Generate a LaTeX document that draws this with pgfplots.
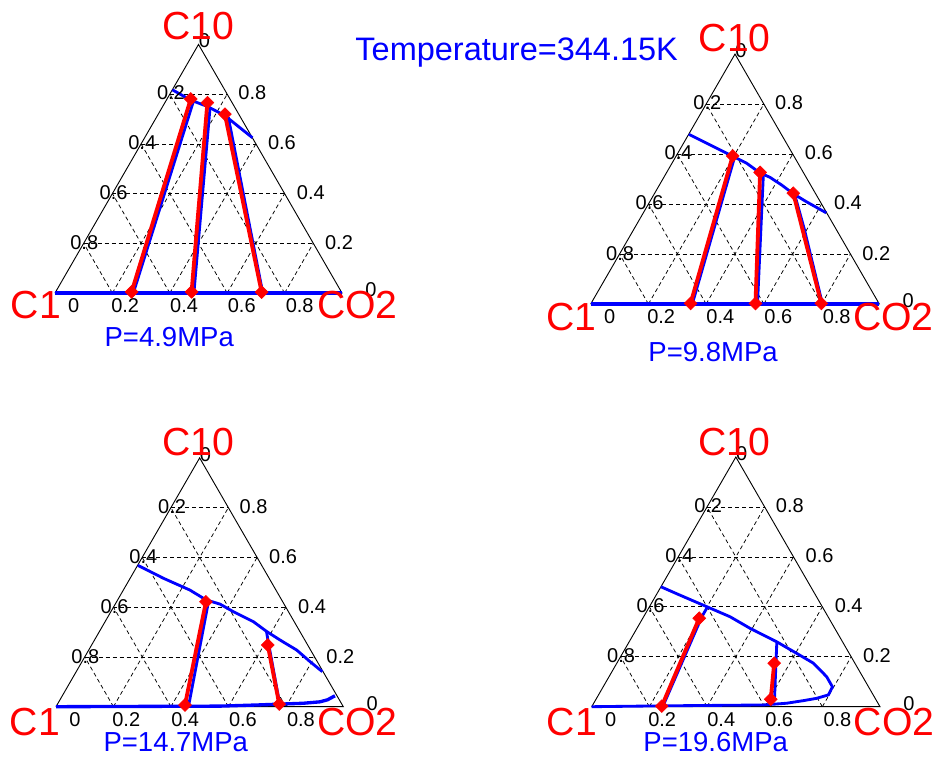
\documentclass[border=0pt]{standalone}
\usepackage{fontspec}
\setmainfont{Liberation Sans}
\usepackage{pgfplots}
\pgfplotsset{compat=1.18}

\tikzset{
  tick/.style={font=\fontsize{12}{14}\selectfont, inner sep=0pt},
  big/.style={font=\fontsize{23.5}{26}\selectfont, text=red, inner sep=0pt},
  plab/.style={font=\fontsize{16.5}{19}\selectfont, text=blue, inner sep=0pt},
}
\pgfplotsset{
  tern/.style={hide axis, clip=false, enlargelimits=false,
    xmin=0, xmax=1, ymin=0, ymax=0.8660, anchor=south west},
  gridl/.style={black, line width=0.45pt, dash pattern=on 2.4pt off 1.8pt, forget plot},
  edge/.style={black, line width=0.55pt, forget plot},
  bl/.style={blue, line width=1.7pt, forget plot},
  blb/.style={blue, line width=2.5pt, forget plot},
  rd/.style={red, line width=2.3pt, mark=square*, mark size=2.7pt,
    mark options={rotate=45, solid, line width=0.4pt, fill=red, draw=red}, forget plot},
}

\newcommand{\tgrid}{%
  \addplot[gridl] coordinates {(0.1,0.1732) (0.9,0.1732)};
  \addplot[gridl] coordinates {(0.2,0.3464) (0.8,0.3464)};
  \addplot[gridl] coordinates {(0.3,0.5196) (0.7,0.5196)};
  \addplot[gridl] coordinates {(0.4,0.6928) (0.6,0.6928)};
  \addplot[gridl] coordinates {(0.2,0) (0.6,0.6928)};
  \addplot[gridl] coordinates {(0.4,0) (0.7,0.5196)};
  \addplot[gridl] coordinates {(0.6,0) (0.8,0.3464)};
  \addplot[gridl] coordinates {(0.8,0) (0.9,0.1732)};
  \addplot[gridl] coordinates {(0.8,0) (0.4,0.6928)};
  \addplot[gridl] coordinates {(0.6,0) (0.3,0.5196)};
  \addplot[gridl] coordinates {(0.4,0) (0.2,0.3464)};
  \addplot[gridl] coordinates {(0.2,0) (0.1,0.1732)};
  \addplot[edge] coordinates {(0,0) (1,0) (0.5,0.8660) (0,0)};
}
\newcommand{\tticks}{%
  \node[tick,anchor=west] at (axis cs:0.045,-0.044) {0};
  \node[tick,anchor=west] at (axis cs:0.195,-0.044) {0.2};
  \node[tick,anchor=west] at (axis cs:0.400,-0.044) {0.4};
  \node[tick,anchor=west] at (axis cs:0.601,-0.044) {0.6};
  \node[tick,anchor=west] at (axis cs:0.803,-0.044) {0.8};
  \node[tick,anchor=west] at (axis cs:0.500,0.878) {0};
  \node[tick] at (axis cs:0.404,0.697) {0.2};
  \node[tick] at (axis cs:0.304,0.523) {0.4};
  \node[tick] at (axis cs:0.204,0.350) {0.6};
  \node[tick] at (axis cs:0.102,0.176) {0.8};
  \node[tick,anchor=west] at (axis cs:0.638,0.697) {0.8};
  \node[tick,anchor=west] at (axis cs:0.741,0.523) {0.6};
  \node[tick,anchor=west] at (axis cs:0.842,0.350) {0.4};
  \node[tick,anchor=west] at (axis cs:0.940,0.176) {0.2};
  \node[tick,anchor=west] at (axis cs:1.080,0.012) {0};
}

\begin{document}
\begin{tikzpicture}
\useasboundingbox (0,0) rectangle (565.2pt,456pt);

% ---------------- Panel 1: P=4.9MPa
\begin{axis}[tern, at={(33.0pt,280.2pt)}, x=172.2pt, y=172.2pt]
\tgrid
\addplot[blb] coordinates {(0,0) (1,0)};
\addplot[bl] coordinates {(0.409,0.708) (0.473,0.672) (0.531,0.650) (0.592,0.618) (0.688,0.541)};
\addplot[bl] coordinates {(0.482,0.667) (0.273,0.0)};
\addplot[bl] coordinates {(0.540,0.643) (0.484,0.0)};
\addplot[bl] coordinates {(0.604,0.612) (0.724,0.0)};
\addplot[rd] coordinates {(0.473,0.676) (0.267,0.004)};
\addplot[rd] coordinates {(0.531,0.663) (0.476,0.004)};
\addplot[rd] coordinates {(0.592,0.623) (0.720,0.003)};
\tticks
\node[big] at (axis cs:0.499,0.932) {C10};
\node[big] at (axis cs:-0.067,-0.042) {C1};
\node[big] at (axis cs:1.054,-0.042) {CO2};
\node[plab] at (axis cs:0.398,-0.154) {P=4.9MPa};
\end{axis}

% ---------------- Panel 2: P=9.8MPa
\begin{axis}[tern, at={(354.42pt,273.6pt)}, x=173.16pt, y=173.16pt]
\tgrid
\addplot[blb] coordinates {(0,0) (1,0)};
\addplot[bl] coordinates {(0.340,0.588) (0.414,0.551) (0.492,0.512) (0.540,0.488) (0.587,0.454) (0.621,0.439) (0.662,0.412) (0.702,0.382) (0.748,0.354) (0.816,0.316)};
\addplot[bl] coordinates {(0.496,0.500) (0.352,0.0)};
\addplot[bl] coordinates {(0.598,0.443) (0.578,0.0)};
\addplot[bl] coordinates {(0.708,0.375) (0.740,0.260) (0.803,0.0)};
\addplot[rd] coordinates {(0.492,0.513) (0.346,0.002)};
\addplot[rd] coordinates {(0.587,0.456) (0.571,0.002)};
\addplot[rd] coordinates {(0.702,0.384) (0.799,0.002)};
\tticks
\node[big] at (axis cs:0.499,0.923) {C10};
\node[big] at (axis cs:-0.066,-0.044) {C1};
\node[big] at (axis cs:1.049,-0.044) {CO2};
\node[plab] at (axis cs:0.424,-0.168) {P=9.8MPa};
\end{axis}

% ---------------- Panel 3: P=14.7MPa
\begin{axis}[tern, at={(33.6pt,31.98pt)}, x=172.38pt, y=172.38pt]
\tgrid
\addplot[bl, line width=2pt] coordinates {(0,0) (0.571,0.002) (0.700,0.006) (0.780,0.009) (0.861,0.012) (0.919,0.017) (0.945,0.024) (0.971,0.038)};
\addplot[bl] coordinates {(0.285,0.492) (0.374,0.447) (0.466,0.406) (0.522,0.372) (0.571,0.357) (0.617,0.331) (0.687,0.296) (0.733,0.262) (0.780,0.232) (0.838,0.197) (0.884,0.157) (0.927,0.122)};
\addplot[bl] coordinates {(0.530,0.362) (0.461,0.0)};
\addplot[bl] coordinates {(0.733,0.260) (0.738,0.230) (0.779,0.008)};
\addplot[rd] coordinates {(0.522,0.365) (0.449,0.006)};
\addplot[rd] coordinates {(0.737,0.215) (0.777,0.009)};
\tticks
\node[big] at (axis cs:0.495,0.922) {C10};
\node[big] at (axis cs:-0.073,-0.052) {C1};
\node[big] at (axis cs:1.049,-0.052) {CO2};
\node[plab] at (axis cs:0.417,-0.122) {P=14.7MPa};
\end{axis}

% ---------------- Panel 4: P=19.6MPa
\begin{axis}[tern, at={(355.02pt,31.98pt)}, x=172.98pt, y=172.98pt]
\tgrid
\addplot[bl] coordinates {(0.240,0.416) (0.306,0.387) (0.399,0.347) (0.480,0.312) (0.549,0.272) (0.642,0.225) (0.711,0.185) (0.769,0.151) (0.815,0.104) (0.835,0.069) (0.821,0.041) (0.780,0.029) (0.734,0.021) (0.676,0.012) (0.595,0.006) (0.248,0.003) (0,0)};
\addplot[bl] coordinates {(0.401,0.345) (0.382,0.312) (0.248,0.004)};
\addplot[bl] coordinates {(0.642,0.222) (0.634,0.025)};
\addplot[rd] coordinates {(0.373,0.307) (0.243,0.002)};
\addplot[rd] coordinates {(0.633,0.151) (0.621,0.026)};
\tticks
\node[big] at (axis cs:0.494,0.919) {C10};
\node[big] at (axis cs:-0.069,-0.052) {C1};
\node[big] at (axis cs:1.049,-0.052) {CO2};
\node[plab] at (axis cs:0.430,-0.122) {P=19.6MPa};
\end{axis}

\node[font=\fontsize{19.5}{22}\selectfont, text=blue, inner sep=0pt] at (310.0pt,424.5pt) {Temperature=344.15K};
\end{tikzpicture}
\end{document}
